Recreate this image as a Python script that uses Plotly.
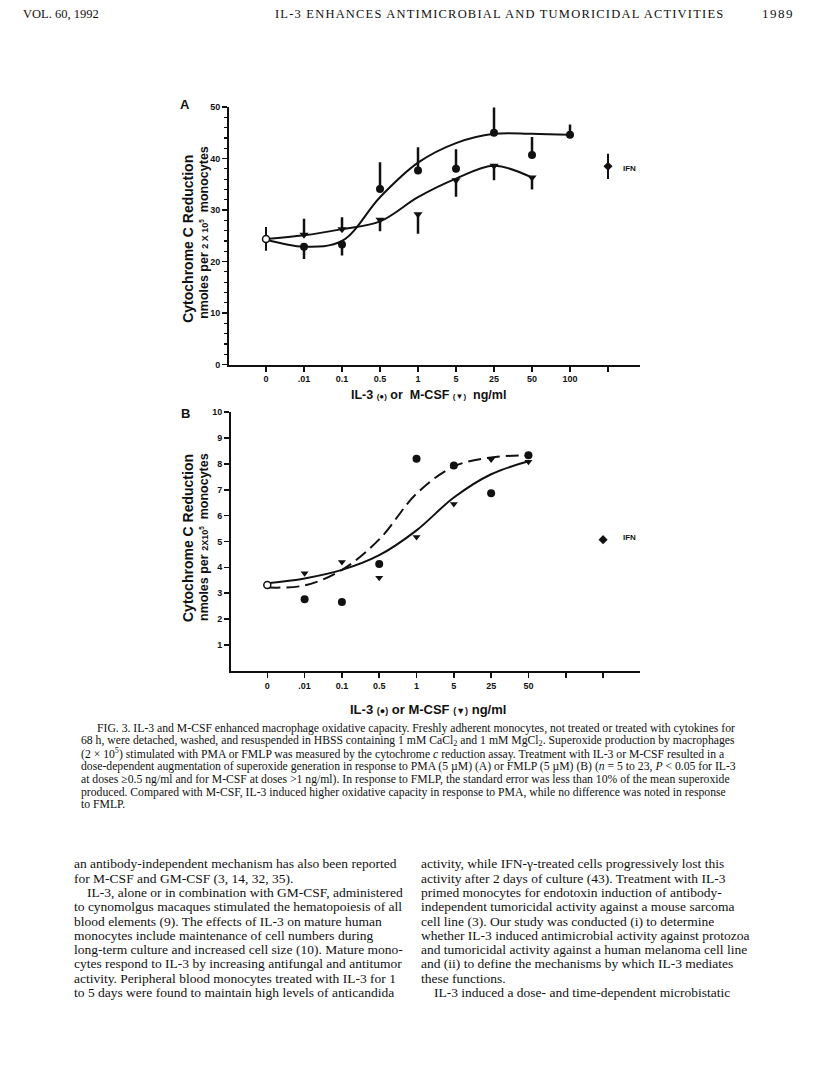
import plotly.graph_objects as go

W, H = 816, 1076

# ---------------- Panel A (PMA) ----------------
cats_A = ["0", ".01", "0.1", "0.5", "1", "5", "25", "50", "100"]
ctrl_A = 24.4
ctrl_A_err = 2.3
il3_A = [22.9, 23.3, 34.1, 37.7, 38.0, 45.0, 40.7, 44.6]
il3_A_up = [0, 0, 5.2, 4.5, 3.8, 4.9, 3.5, 2.0]
il3_A_dn = [2.4, 2.1, 0, 0, 0, 0, 0, 0]
mcsf_A = [25.2, 26.3, 28.1, 29.2, 35.8, 38.6, 36.3]
mcsf_A_up = [3.1, 2.3, 0, 0, 0, 0, 0]
mcsf_A_dn = [0, 0, 2.2, 3.8, 3.2, 2.8, 2.3]
ifn_A = 38.5
ifn_A_err = 2.45
il3_fit_A = [24.3, 22.9, 24.0, 32.5, 39.2, 43.0, 44.8, 44.8, 44.6]
mcsf_fit_A = [24.4, 25.1, 26.3, 27.8, 32.5, 36.1, 38.6, 36.3]

# ---------------- Panel B (FMLP) ----------------
cats_B = ["0", ".01", "0.1", "0.5", "1", "5", "25", "50"]
ctrl_B = 3.32
il3_B = [2.77, 2.66, 4.13, 8.20, 7.94, 6.86, 8.33]
mcsf_B = [3.77, 4.21, 3.60, 5.17, 6.45, 8.17, 8.08]
ifn_B = 5.07
dash_fit_B = [3.22, 3.30, 3.90, 5.08, 6.85, 7.90, 8.25, 8.33]
solid_fit_B = [3.38, 3.57, 3.90, 4.47, 5.43, 6.70, 7.60, 8.10]

BLACK = "#111111"
SANS = "Liberation Sans"
SERIF = "Liberation Serif"


def px_x(p):
    return p / W


def px_y(p):
    return 1 - p / H


fig = go.Figure()

# ---- Panel A traces ----
xa = list(range(len(cats_A)))
ifn_pos_A = len(cats_A)
fig.add_trace(go.Scatter(x=xa, y=il3_fit_A, mode="lines", line=dict(color=BLACK, width=2, shape="spline", smoothing=1.0),
                         xaxis="x", yaxis="y", showlegend=False, hoverinfo="skip"))
fig.add_trace(go.Scatter(x=xa[:len(mcsf_fit_A)], y=mcsf_fit_A, mode="lines",
                         line=dict(color=BLACK, width=2, shape="spline", smoothing=1.0),
                         xaxis="x", yaxis="y", showlegend=False, hoverinfo="skip"))
fig.add_trace(go.Scatter(x=xa[1:1 + len(mcsf_A)], y=mcsf_A, mode="markers",
                         marker=dict(symbol="triangle-down", size=8, color=BLACK),
                         error_y=dict(type="data", symmetric=False, array=mcsf_A_up, arrayminus=mcsf_A_dn,
                                      color=BLACK, thickness=2.5, width=0),
                         xaxis="x", yaxis="y", showlegend=False))
fig.add_trace(go.Scatter(x=xa[1:1 + len(il3_A)], y=il3_A, mode="markers",
                         marker=dict(symbol="circle", size=8, color=BLACK),
                         error_y=dict(type="data", symmetric=False, array=il3_A_up, arrayminus=il3_A_dn,
                                      color=BLACK, thickness=2.5, width=0),
                         xaxis="x", yaxis="y", showlegend=False))
fig.add_trace(go.Scatter(x=[0], y=[ctrl_A], mode="markers",
                         marker=dict(symbol="circle", size=7, color="white", line=dict(color=BLACK, width=1.5)),
                         error_y=dict(type="data", array=[ctrl_A_err], color=BLACK, thickness=2, width=0),
                         xaxis="x", yaxis="y", showlegend=False))
fig.add_trace(go.Scatter(x=[ifn_pos_A], y=[ifn_A], mode="markers",
                         marker=dict(symbol="diamond", size=7, color=BLACK),
                         error_y=dict(type="data", array=[ifn_A_err], color=BLACK, thickness=2, width=0),
                         xaxis="x", yaxis="y", showlegend=False))

# ---- Panel B traces ----
xb = list(range(len(cats_B)))
ifn_pos_B = len(cats_B) + 1
fig.add_trace(go.Scatter(x=xb, y=dash_fit_B, mode="lines",
                         line=dict(color=BLACK, width=2, shape="spline", smoothing=1.0, dash="13px,6px"),
                         xaxis="x2", yaxis="y2", showlegend=False, hoverinfo="skip"))
fig.add_trace(go.Scatter(x=xb, y=solid_fit_B, mode="lines",
                         line=dict(color=BLACK, width=2, shape="spline", smoothing=1.0),
                         xaxis="x2", yaxis="y2", showlegend=False, hoverinfo="skip"))
fig.add_trace(go.Scatter(x=xb[1:1 + len(mcsf_B)], y=mcsf_B, mode="markers",
                         marker=dict(symbol="triangle-down", size=7, color=BLACK),
                         xaxis="x2", yaxis="y2", showlegend=False))
fig.add_trace(go.Scatter(x=xb[1:1 + len(il3_B)], y=il3_B, mode="markers",
                         marker=dict(symbol="circle", size=8, color=BLACK),
                         xaxis="x2", yaxis="y2", showlegend=False))
fig.add_trace(go.Scatter(x=[0], y=[ctrl_B], mode="markers",
                         marker=dict(symbol="circle", size=7, color="white", line=dict(color=BLACK, width=1.5)),
                         xaxis="x2", yaxis="y2", showlegend=False))
fig.add_trace(go.Scatter(x=[ifn_pos_B], y=[ifn_B], mode="markers",
                         marker=dict(symbol="diamond", size=7, color=BLACK),
                         xaxis="x2", yaxis="y2", showlegend=False))

tickfont = dict(family=SANS, size=9, color=BLACK, weight="bold")

axis_common = dict(showline=True, linecolor=BLACK, linewidth=2, showgrid=False, zeroline=False,
                   ticks="outside", tickcolor=BLACK, tickwidth=1.5, tickfont=tickfont, fixedrange=True)

xminor = dict(tick0=0, dtick=1, ticklen=5, ticks="outside", tickcolor=BLACK, tickwidth=1.5, showgrid=False)

fig.update_layout(
    width=W, height=H, autosize=False,
    margin=dict(l=0, r=0, t=0, b=0),
    paper_bgcolor="white", plot_bgcolor="white",
    xaxis=dict(axis_common, domain=[px_x(229), px_x(640)], range=[-0.974, 9.842],
               tickmode="array", tickvals=xa, ticktext=cats_A,
               ticklen=5, minor=xminor, anchor="y"),
    yaxis=dict(axis_common, domain=[px_y(363), px_y(103)], range=[0, 50],
               tickmode="array", tickvals=[0, 10, 20, 30, 40, 50], ticklen=5,
               minor=dict(dtick=2, ticklen=3, ticks="outside", tickcolor=BLACK, tickwidth=1.2, showgrid=False),
               anchor="x"),
    xaxis2=dict(axis_common, domain=[px_x(231), px_x(640)], range=[-0.973, 9.99],
                tickmode="array", tickvals=xb, ticktext=cats_B,
                ticklen=5, minor=xminor, anchor="y2"),
    yaxis2=dict(axis_common, domain=[px_y(672), px_y(411)], range=[0, 10],
                tickmode="array", tickvals=list(range(1, 11)), ticklen=5, anchor="x2"),
)

ann = []


def text(x, y, s, size, family=SERIF, xanchor="left", bold=False, angle=0):
    ann.append(dict(x=px_x(x), y=px_y(y), xref="paper", yref="paper", text=s, showarrow=False,
                    xanchor=xanchor, yanchor="middle", textangle=angle, borderpad=0,
                    font=dict(family=family, size=size, color=BLACK, weight="bold" if bold else "normal")))


# Header
text(22, 9, "VOL. 60, 1992", 12.5)
text(499, 9, "<span style='letter-spacing:1.2px'>IL-3 ENHANCES ANTIMICROBIAL AND TUMORICIDAL ACTIVITIES</span>",
     12.5, xanchor="center")
text(795, 9, "<span style='letter-spacing:1.5px'>1989</span>", 13, xanchor="right")

# Panel labels
text(185, 100, "A", 13, family=SANS, xanchor="center", bold=True)
text(185, 412, "B", 13, family=SANS, xanchor="center", bold=True)

# Y axis titles
text(188, 236, "Cytochrome C Reduction", 14, family=SANS, xanchor="center", bold=True, angle=-90)
text(204, 230, "nmoles per <span style='font-size:9px'>2 X 10<sup>5</sup></span>  monocytes", 12.5,
     family=SANS, xanchor="center", bold=True, angle=-90)
text(188, 538, "Cytochrome C Reduction", 14, family=SANS, xanchor="center", bold=True, angle=-90)
text(204, 537, "nmoles per <span style='font-size:9px'>2X10<sup>5</sup></span>  monocytes", 12.5,
     family=SANS, xanchor="center", bold=True, angle=-90)

# X axis titles
xt = "IL-3 <span style='font-size:8px'>(●)</span> or  M-CSF <span style='font-size:8px'>(▼)</span>  ng/ml"
text(428, 394, xt, 12.5, family=SANS, xanchor="center", bold=True)
xt2 = "IL-3 <span style='font-size:9px'>(●)</span> or M-CSF <span style='font-size:9px'>(▼)</span> ng/ml"
text(428, 711, xt2, 13, family=SANS, xanchor="center", bold=True)

# IFN labels
text(622, 165, "IFN", 8, family=SANS, bold=True)
text(622, 537, "IFN", 8, family=SANS, bold=True)

# Caption
caption = [
    "FIG. 3. IL-3 and M-CSF enhanced macrophage oxidative capacity. Freshly adherent monocytes, not treated or treated with cytokines for",
    "68 h, were detached, washed, and resuspended in HBSS containing 1 mM CaCl<sub>2</sub> and 1 mM MgCl<sub>2</sub>. Superoxide production by macrophages",
    "(2 × 10<sup>5</sup>) stimulated with PMA or FMLP was measured by the cytochrome <i>c</i> reduction assay. Treatment with IL-3 or M-CSF resulted in a",
    "dose-dependent augmentation of superoxide generation in response to PMA (5 µM) (A) or FMLP (5 µM) (B) (<i>n</i> = 5 to 23, <i>P</i> &lt; 0.05 for IL-3",
    "at doses ≥0.5 ng/ml and for M-CSF at doses &gt;1 ng/ml). In response to FMLP, the standard error was less than 10% of the mean superoxide",
    "produced. Compared with M-CSF, IL-3 induced higher oxidative capacity in response to PMA, while no difference was noted in response",
    "to FMLP.",
]
for i, line in enumerate(caption):
    text(96 if i == 0 else 80, 730 + 12.9 * i, line, 11.7)

left_col = [
    "an antibody-independent mechanism has also been reported",
    "for M-CSF and GM-CSF (3, 14, 32, 35).",
    "IL-3, alone or in combination with GM-CSF, administered",
    "to cynomolgus macaques stimulated the hematopoiesis of all",
    "blood elements (9). The effects of IL-3 on mature human",
    "monocytes include maintenance of cell numbers during",
    "long-term culture and increased cell size (10). Mature mono-",
    "cytes respond to IL-3 by increasing antifungal and antitumor",
    "activity. Peripheral blood monocytes treated with IL-3 for 1",
    "to 5 days were found to maintain high levels of anticandida",
]
right_col = [
    "activity, while IFN-γ-treated cells progressively lost this",
    "activity after 2 days of culture (43). Treatment with IL-3",
    "primed monocytes for endotoxin induction of antibody-",
    "independent tumoricidal activity against a mouse sarcoma",
    "cell line (3). Our study was conducted (i) to determine",
    "whether IL-3 induced antimicrobial activity against protozoa",
    "and tumoricidal activity against a human melanoma cell line",
    "and (ii) to define the mechanisms by which IL-3 mediates",
    "these functions.",
    "IL-3 induced a dose- and time-dependent microbistatic",
]
for i, line in enumerate(left_col):
    text(86 if i == 2 else 73, 867 + 14.4 * i, line, 13.5)
for i, line in enumerate(right_col):
    text(433 if i == 9 else 420, 867 + 14.4 * i, line, 13.5)

fig.update_layout(annotations=ann)
fig.write_html("out.html", config={"displayModeBar": False, "staticPlot": True},
               post_script="document.body.style.margin='0px';")
